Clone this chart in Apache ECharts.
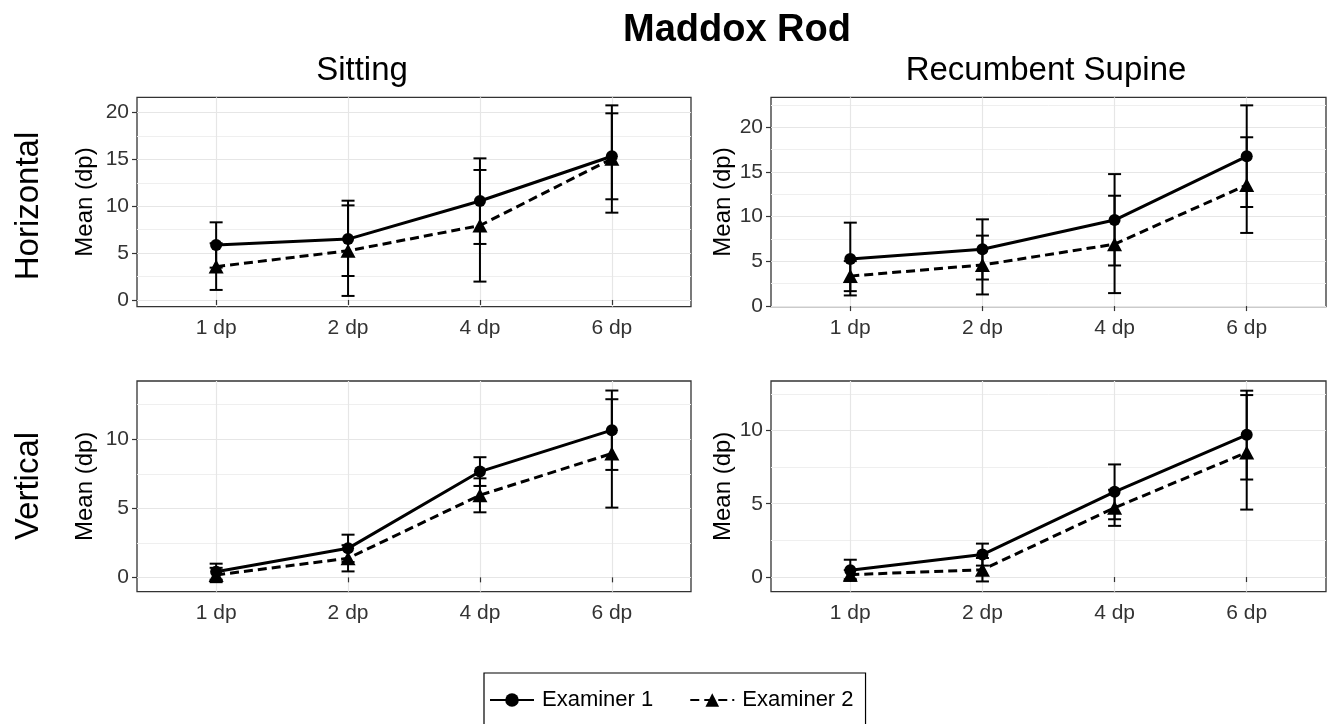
<!DOCTYPE html>
<html><head><meta charset="utf-8">
<script src="https://cdn.jsdelivr.net/npm/echarts@6/dist/echarts.min.js"></script>
<style>html,body{margin:0;padding:0;background:#fff}#c{width:1331px;height:724px}</style>
</head><body><div id="c"></div>
<script>
const xLabels = ['1 dp', '2 dp', '4 dp', '6 dp'];
const examiners = ['Examiner 1', 'Examiner 2'];
const columnTitles = ['Sitting', 'Recumbent Supine'];
const rowTitles = ['Horizontal', 'Vertical'];

// Sitting - Horizontal
const sitHorE1 = [5.87, 6.5, 10.57, 15.35];
const sitHorE1Lo = [3.45, 2.56, 5.98, 10.75];
const sitHorE1Hi = [8.29, 10.6, 15.12, 19.93];
const sitHorE2 = [3.56, 5.25, 7.95, 15.08];
const sitHorE2Lo = [1.07, 0.43, 1.96, 9.32];
const sitHorE2Hi = [6.05, 10.1, 13.88, 20.78];
// Recumbent Supine - Horizontal
const recHorE1 = [5.27, 6.36, 9.62, 16.75];
const recHorE1Lo = [1.19, 2.97, 4.54, 11.08];
const recHorE1Hi = [9.33, 9.7, 14.76, 22.45];
const recHorE2 = [3.35, 4.6, 6.92, 13.55];
const recHorE2Lo = [1.67, 1.3, 1.45, 8.18];
const recHorE2Hi = [5.03, 7.88, 12.34, 18.88];
// Sitting - Vertical
const sitVerE1 = [0.41, 2.1, 7.66, 10.66];
const sitVerE1Lo = [-0.17, 1.11, 6.62, 7.78];
const sitVerE1Hi = [0.99, 3.09, 8.7, 13.53];
const sitVerE2 = [0.17, 1.38, 5.95, 8.97];
const sitVerE2Lo = [-0.35, 0.43, 4.71, 5.05];
const sitVerE2Hi = [0.69, 2.33, 7.17, 12.9];
// Recumbent Supine - Vertical
const recVerE1 = [0.46, 1.53, 5.81, 9.7];
const recVerE1Lo = [-0.26, 0.78, 3.94, 6.65];
const recVerE1Hi = [1.18, 2.28, 7.68, 12.71];
const recVerE2 = [0.16, 0.5, 4.72, 8.5];
const recVerE2Lo = [-0.15, -0.3, 3.49, 4.6];
const recVerE2Hi = [0.47, 1.3, 5.95, 12.41];

const yTicksH = [0, 5, 10, 15, 20];
const yMinorH = [2.5, 7.5, 12.5, 17.5];
const yMinorH2 = [2.5, 7.5, 12.5, 17.5, 22.5];
const yTicksV = [0, 5, 10];
const yMinorV = [2.5, 7.5, 12.5];

const FONT = 'Liberation Sans, Arial, sans-serif';
const panels = [
  {left: 137, top: 97.3, width: 554, height: 209.4, ymin: -0.72, ymax: 21.64, ticks: yTicksH, minor: yMinorH, nameGap: 40,
   e1: sitHorE1, e1lo: sitHorE1Lo, e1hi: sitHorE1Hi, e2: sitHorE2, e2lo: sitHorE2Lo, e2hi: sitHorE2Hi},
  {left: 771, top: 97.3, width: 555, height: 209.4, ymin: -0.07, ymax: 23.35, ticks: yTicksH, minor: yMinorH2, nameGap: 36,
   e1: recHorE1, e1lo: recHorE1Lo, e1hi: recHorE1Hi, e2: recHorE2, e2lo: recHorE2Lo, e2hi: recHorE2Hi},
  {left: 137, top: 381, width: 554, height: 210.7, ymin: -1.04, ymax: 14.22, ticks: yTicksV, minor: yMinorV, nameGap: 40,
   e1: sitVerE1, e1lo: sitVerE1Lo, e1hi: sitVerE1Hi, e2: sitVerE2, e2lo: sitVerE2Lo, e2hi: sitVerE2Hi},
  {left: 771, top: 381, width: 555, height: 210.7, ymin: -1.0, ymax: 13.37, ticks: yTicksV, minor: yMinorV, nameGap: 36,
   e1: recVerE1, e1lo: recVerE1Lo, e1hi: recVerE1Hi, e2: recVerE2, e2lo: recVerE2Lo, e2hi: recVerE2Hi}
];

const xPos = xLabels.map((_, i) => i + 1);
const grids = [], xAxes = [], yAxes = [], series = [];

function errRender(params, api) {
  const x = api.value(0);
  const lo = api.coord([x, api.value(1)]);
  const hi = api.coord([x, api.value(2)]);
  const w = 6.5;
  const st = {stroke: '#000', lineWidth: 2};
  return {type: 'group', children: [
    {type: 'line', shape: {x1: lo[0], y1: lo[1], x2: hi[0], y2: hi[1]}, style: st},
    {type: 'line', shape: {x1: lo[0] - w, y1: lo[1], x2: lo[0] + w, y2: lo[1]}, style: st},
    {type: 'line', shape: {x1: hi[0] - w, y1: hi[1], x2: hi[0] + w, y2: hi[1]}, style: st}
  ]};
}

panels.forEach((p, i) => {
  grids.push({left: p.left, top: p.top, width: p.width, height: p.height, show: true,
    borderColor: '#333', borderWidth: 1.3, backgroundColor: '#fff'});
  xAxes.push({type: 'value', gridIndex: i, min: 0.4, max: 4.6,
    axisLine: {show: false},
    axisTick: {show: true, customValues: xPos, length: 5, lineStyle: {color: '#333', width: 1.2}},
    axisLabel: {customValues: xPos, formatter: v => xLabels[Math.round(v) - 1], fontSize: 21,
      fontFamily: FONT, color: '#333', margin: 11},
    splitLine: {show: true, lineStyle: {color: '#e6e6e6', width: 1.2}}
  });
  yAxes.push({type: 'value', gridIndex: i, min: p.ymin, max: p.ymax,
    axisLine: {show: false},
    axisTick: {show: true, customValues: p.ticks, length: 5, lineStyle: {color: '#333', width: 1.2}},
    axisLabel: {customValues: p.ticks, fontSize: 21, fontFamily: FONT, color: '#333', margin: 8},
    splitLine: {show: true, lineStyle: {color: '#e6e6e6', width: 1.2}},
    name: 'Mean (dp)', nameLocation: 'middle', nameGap: p.nameGap,
    nameTextStyle: {fontSize: 24, fontFamily: FONT, color: '#000'}
  });
  yAxes.push({type: 'value', gridIndex: i, min: p.ymin, max: p.ymax, position: 'left',
    axisLine: {show: false},
    axisTick: {show: false, customValues: p.minor},
    axisLabel: {show: false},
    splitLine: {show: true, lineStyle: {color: '#efefef', width: 1}}
  });
  const yi = 2 * i;
  series.push({name: examiners[0], type: 'line', xAxisIndex: i, yAxisIndex: yi, z: 3,
    data: xPos.map((x, k) => [x, p.e1[k]]),
    symbol: 'circle', symbolSize: 12, lineStyle: {color: '#000', width: 3},
    itemStyle: {color: '#000'}});
  series.push({name: examiners[1], type: 'line', xAxisIndex: i, yAxisIndex: yi, z: 3,
    data: xPos.map((x, k) => [x, p.e2[k]]),
    symbol: 'triangle', symbolSize: [15, 14], lineStyle: {color: '#000', width: 3, type: [9, 5]},
    itemStyle: {color: '#000'}});
  series.push({name: 'err1', type: 'custom', xAxisIndex: i, yAxisIndex: yi, z: 4,
    renderItem: errRender, data: xPos.map((x, k) => [x, p.e1lo[k], p.e1hi[k]])});
  series.push({name: 'err2', type: 'custom', xAxisIndex: i, yAxisIndex: yi, z: 4,
    renderItem: errRender, data: xPos.map((x, k) => [x, p.e2lo[k], p.e2hi[k]])});
});

const graphics = [
  {type: 'text', x: 737, y: 31, style: {text: 'Maddox Rod', fontSize: 38, fontWeight: 'bold', fontFamily: FONT, fill: '#000', align: 'center', verticalAlign: 'middle'}},
  {type: 'text', x: 362, y: 71, style: {text: columnTitles[0], fontSize: 33, fontFamily: FONT, fill: '#000', align: 'center', verticalAlign: 'middle'}},
  {type: 'text', x: 1046, y: 71, style: {text: columnTitles[1], fontSize: 33, fontFamily: FONT, fill: '#000', align: 'center', verticalAlign: 'middle'}},
  {type: 'text', x: 29, y: 206, rotation: Math.PI / 2, style: {text: rowTitles[0], fontSize: 33, fontFamily: FONT, fill: '#000', align: 'center', verticalAlign: 'middle'}},
  {type: 'text', x: 29, y: 486, rotation: Math.PI / 2, style: {text: rowTitles[1], fontSize: 33, fontFamily: FONT, fill: '#000', align: 'center', verticalAlign: 'middle'}}
];

const chart = echarts.init(document.getElementById('c'), null, {renderer: 'canvas'});
chart.setOption({
  animation: false,
  backgroundColor: '#fff',
  grid: grids, xAxis: xAxes, yAxis: yAxes, series: series,
  graphic: graphics,
  legend: {data: examiners, left: 484, top: 673, orient: 'horizontal',
    padding: [16, 12, 30, 5], borderColor: '#000', borderWidth: 1.2,
    itemGap: 36, itemWidth: 44, itemHeight: 17,
    textStyle: {fontSize: 22, fontFamily: FONT, color: '#000', padding: [0, 0, 0, 3]}}
});
</script></body></html>
